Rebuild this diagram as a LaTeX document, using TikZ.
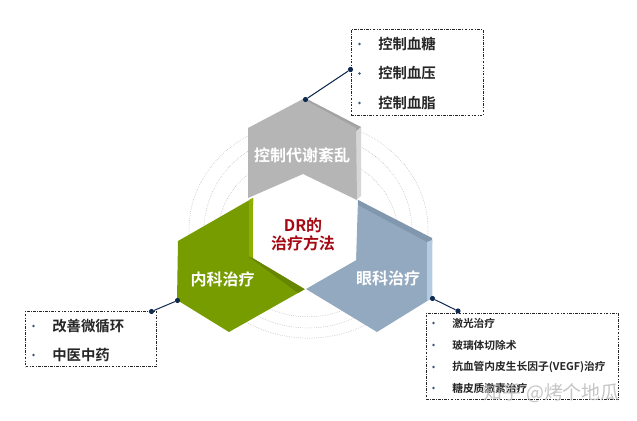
\documentclass[tikz,border=0pt]{standalone}
\usepackage{fontspec}
\setmainfont{Noto Sans CJK SC}[BoldFont={* Bold}]
\newfontfamily\cjkb{Noto Sans CJK SC Bold}
\definecolor{ink}{HTML}{0F2A50}
\definecolor{grayF}{HTML}{B5B5B5}
\definecolor{grayD}{HTML}{A3A3A3}
\definecolor{grayL}{HTML}{D6D6D6}
\definecolor{greenF}{HTML}{779C00}
\definecolor{greenD}{HTML}{668600}
\definecolor{greenL}{HTML}{8DB000}
\definecolor{blueF}{HTML}{93A9BF}
\definecolor{blueD}{HTML}{8097AD}
\definecolor{blueL}{HTML}{B4CCE2}
\definecolor{midred}{HTML}{A50A14}
\tikzset{
  ring/.style={draw=black!38,line width=.35pt,densely dotted},
  listbox/.style={draw=black!85,line width=.55pt,dash pattern=on 2pt off 1pt on .6pt off 1pt},
  lead/.style={draw=ink,line width=.75pt},
  dotend/.style={circle,fill=ink,inner sep=0pt,minimum size=3.9pt},
  bullet/.style={circle,fill=ink!80,inner sep=0pt,minimum size=2.1pt},
  hexlabel/.style={text=white,font=\cjkb\fontsize{12pt}{13pt}\selectfont,inner sep=0pt},
  item/.style={anchor=west,text=black!85,font=\cjkb\fontsize{10.8pt}{12pt}\selectfont,inner sep=0pt},
  smallitem/.style={anchor=west,text=black!85,font=\cjkb\fontsize{8.05pt}{9pt}\selectfont,inner sep=0pt},
}
\begin{document}
\begin{tikzpicture}[x=.75pt,y=-.75pt]
\useasboundingbox (0,0) rectangle (637,421);
\fill[white] (0,0) rectangle (637,421);
\draw[ring] (308.5,229.5) ellipse[x radius=119.5,y radius=108.6];
\draw[ring] (308,230.6) ellipse[x radius=104,y radius=97.4];
\draw[ring] (308,235) ellipse[x radius=90,y radius=81.7];
% gray hexagon
\fill[grayL] (356,127) -- (361,127) -- (361,196) -- (356,200) -- cycle;
\fill[grayD] (305,98) -- (361,127) -- (356,131) -- (301,101) -- cycle;
\fill[grayF] (303,99) -- (356,128) -- (357,200) -- (303,174) -- (248,198) -- (248,128) -- cycle;
% green hexagon
\fill[greenF] (253,198) -- (178,241) -- (177,300) -- (229,332) -- (305,289) -- (253,258) -- cycle;
\fill[greenL] (249,200) -- (253,198) -- (253,258) -- (249,256) -- cycle;
\fill[greenD] (249,257) -- (253,258) -- (305,289) -- (298,293) -- cycle;
% blue hexagon
\fill[blueF] (358,200) -- (432,240) -- (432,298) -- (377,332) -- (306,289) -- (356,260) -- cycle;
\fill[blueD] (358,200) -- (432,238) -- (432,243) -- (427,242) -- (358,205) -- cycle;
\fill[blueL] (427,242) -- (432,240) -- (432,298) -- (427,301) -- cycle;
% centre
\fill[white] (303,175) -- (356,205) -- (356,260) -- (305,289) -- (253,258) -- (253,205) -- cycle;
\node[hexlabel] (lg) at (302,155.5) {控制代谢紊乱};
\node[hexlabel] (lb) at (222.5,279) {内科治疗};
\node[hexlabel] (lc) at (388,278.5) {眼科治疗};
\node[align=center,text=midred,font=\cjkb\fontsize{12pt}{13.5pt}\selectfont,inner sep=0pt] (mid) at (303,234) {DR的\\治疗方法};
% boxes
\node[listbox,minimum width=99pt,minimum height=64pt,inner sep=0pt] (top) at (417,72.5) {};
\node[listbox,minimum width=98pt,minimum height=41.5pt,inner sep=0pt] (left) at (91,339) {};
\node[listbox,minimum width=144pt,minimum height=65pt,inner sep=0pt] (right) at (522,356.5) {};
\foreach \y/\t in {44/控制血糖,73.5/控制血压,103/控制血脂}{
  \node[bullet] at (359.5,\y) {};
  \node[item] at (378,\y) {\t};}
\foreach \y/\t in {326/改善微循环,355/中医中药}{
  \node[bullet] at (33.5,\y) {};
  \node[item] at (52,\y) {\t};}
\foreach \y/\t in {323/激光治疗,345/玻璃体切除术,367/抗血管内皮生长因子(VEGF)治疗,388/糖皮质激素治疗}{
  \node[bullet] at (433.5,\y) {};
  \node[smallitem] at (452,\y) {\t};}
% leaders
\node[dotend] (a1) at (305.5,99.5) {};
\node[dotend] (a2) at (350.5,69.5) {};
\draw[lead] (a1) -- (a2);
\node[dotend] (b1) at (177.5,300.5) {};
\node[dotend] (b2) at (151.5,311.5) {};
\draw[lead] (b1) -- (b2);
\node[dotend] (c1) at (432.5,298.5) {};
\node[dotend] (c2) at (458,311) {};
\draw[lead] (c1) -- (c2);
% watermark
\node[text=black!30,opacity=.75,font=\fontsize{14.2pt}{16pt}\selectfont,inner sep=0pt,anchor=east] (wm) at (620,393) {知乎 @烤个地瓜};
\end{tikzpicture}
\end{document}
